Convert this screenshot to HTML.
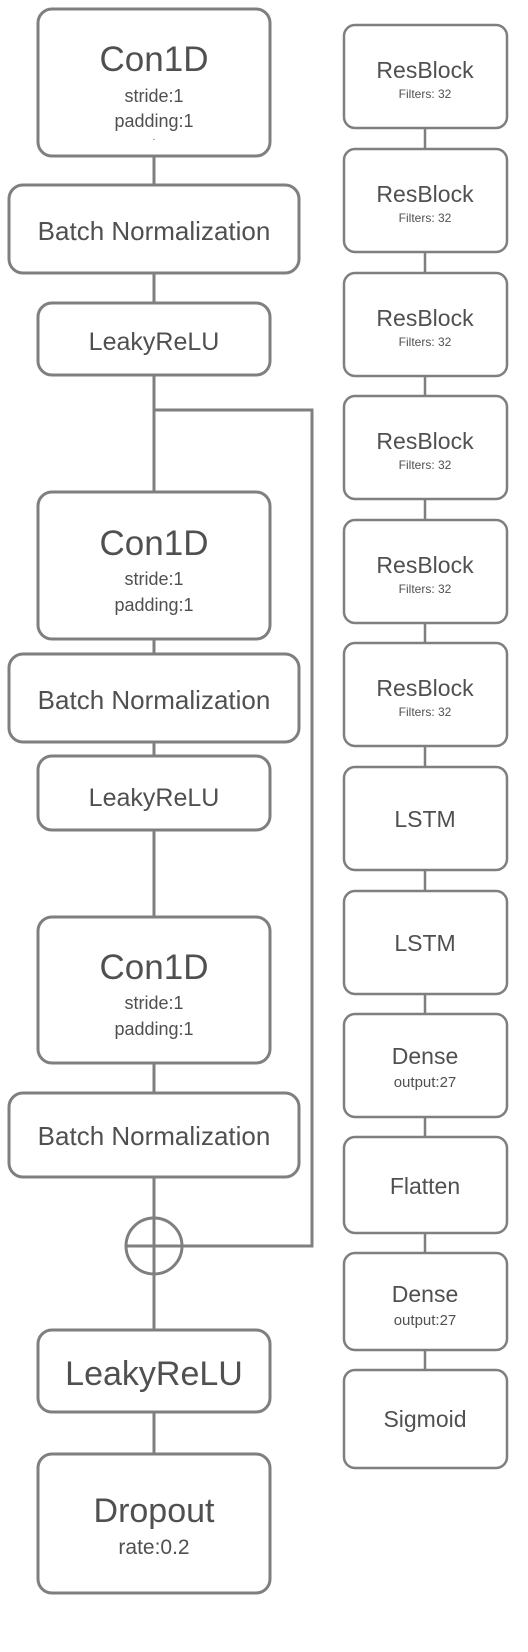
<!DOCTYPE html>
<html><head><meta charset="utf-8"><style>
html,body{margin:0;padding:0;background:#fff;}
svg{display:block;}
text{font-family:"Liberation Sans",sans-serif;fill:#505050;text-anchor:middle;}
</style></head><body>
<svg width="528" height="1652" viewBox="0 0 528 1652" xmlns="http://www.w3.org/2000/svg">
<g stroke="#7f7f7f" stroke-width="3" fill="none">
  <!-- left connectors -->
  <line x1="154" y1="156" x2="154" y2="185"/>
  <line x1="154" y1="273" x2="154" y2="303"/>
  <line x1="154" y1="375" x2="154" y2="492"/>
  <polyline points="154,410 312,410 312,1246 183,1246"/>
  <line x1="154" y1="639" x2="154" y2="654"/>
  <line x1="154" y1="742" x2="154" y2="756"/>
  <line x1="154" y1="830" x2="154" y2="917"/>
  <line x1="154" y1="1063" x2="154" y2="1093"/>
  <line x1="154" y1="1177" x2="154" y2="1330"/>
  <circle cx="154" cy="1246" r="28"/>
  <line x1="126" y1="1246" x2="182" y2="1246"/>
  <line x1="154" y1="1412" x2="154" y2="1454"/>
  <!-- left boxes -->
  <rect x="38" y="9" width="232" height="147" rx="14"/>
  <rect x="9" y="185" width="290" height="88" rx="14"/>
  <rect x="38" y="303" width="232" height="72" rx="14"/>
  <rect x="38" y="492" width="232" height="147" rx="14"/>
  <rect x="9" y="654" width="290" height="88" rx="14"/>
  <rect x="38" y="756" width="232" height="74" rx="14"/>
  <rect x="38" y="917" width="232" height="146" rx="14"/>
  <rect x="9" y="1093" width="290" height="84" rx="14"/>
  <rect x="38" y="1330" width="232" height="82" rx="14"/>
  <rect x="38" y="1454" width="232" height="139" rx="14"/>
</g>
<g stroke="#7f7f7f" stroke-width="2.5" fill="none">
  <line x1="425" y1="128" x2="425" y2="1370"/>
</g>
<g stroke="#7f7f7f" stroke-width="2.5" fill="#fff">
  <rect x="344" y="25" width="163" height="103" rx="11"/>
  <rect x="344" y="149" width="163" height="103" rx="11"/>
  <rect x="344" y="273" width="163" height="103" rx="11"/>
  <rect x="344" y="396" width="163" height="103" rx="11"/>
  <rect x="344" y="520" width="163" height="103" rx="11"/>
  <rect x="344" y="643" width="163" height="103" rx="11"/>
  <rect x="344" y="767" width="163" height="103" rx="11"/>
  <rect x="344" y="891" width="163" height="103" rx="11"/>
  <rect x="344" y="1014" width="163" height="103" rx="11"/>
  <rect x="344" y="1137" width="163" height="96" rx="11"/>
  <rect x="344" y="1253" width="163" height="97" rx="11"/>
  <rect x="344" y="1370" width="163" height="98" rx="11"/>
</g>
<!-- left text -->
<text x="154" y="71" font-size="35">Con1D</text>
<text x="154" y="102" font-size="18">stride:1</text>
<text x="154" y="127" font-size="18">padding:1</text>
<text x="154" y="142" font-size="10">·</text>
<text x="154" y="240" font-size="26">Batch Normalization</text>
<text x="154" y="350" font-size="25">LeakyReLU</text>
<text x="154" y="555" font-size="35">Con1D</text>
<text x="154" y="585" font-size="18">stride:1</text>
<text x="154" y="611" font-size="18">padding:1</text>
<text x="154" y="709" font-size="26">Batch Normalization</text>
<text x="154" y="806" font-size="25">LeakyReLU</text>
<text x="154" y="979" font-size="35">Con1D</text>
<text x="154" y="1009" font-size="18">stride:1</text>
<text x="154" y="1035" font-size="18">padding:1</text>
<text x="154" y="1145" font-size="26">Batch Normalization</text>
<text x="154" y="1385" font-size="34">LeakyReLU</text>
<text x="154" y="1522" font-size="34">Dropout</text>
<text x="154" y="1554" font-size="21">rate:0.2</text>
<!-- right text -->
<g>
<text x="425" y="78" font-size="23">ResBlock</text><text x="425" y="98" font-size="12">Filters: 32</text>
<text x="425" y="202" font-size="23">ResBlock</text><text x="425" y="222" font-size="12">Filters: 32</text>
<text x="425" y="326" font-size="23">ResBlock</text><text x="425" y="346" font-size="12">Filters: 32</text>
<text x="425" y="449" font-size="23">ResBlock</text><text x="425" y="469" font-size="12">Filters: 32</text>
<text x="425" y="573" font-size="23">ResBlock</text><text x="425" y="593" font-size="12">Filters: 32</text>
<text x="425" y="696" font-size="23">ResBlock</text><text x="425" y="716" font-size="12">Filters: 32</text>
<text x="425" y="827" font-size="23">LSTM</text>
<text x="425" y="951" font-size="23">LSTM</text>
<text x="425" y="1064" font-size="23">Dense</text><text x="425" y="1087" font-size="15">output:27</text>
<text x="425" y="1194" font-size="23">Flatten</text>
<text x="425" y="1302" font-size="23">Dense</text><text x="425" y="1325" font-size="15">output:27</text>
<text x="425" y="1427" font-size="23">Sigmoid</text>
</g>
</svg>
</body></html>
